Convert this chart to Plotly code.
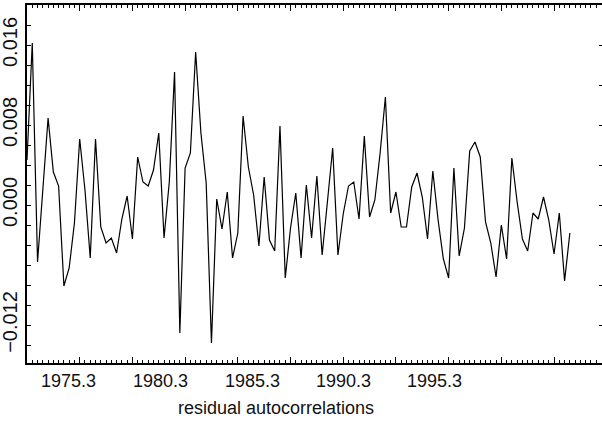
import plotly.graph_objects as go

# residual autocorrelation series (104 quarterly observations, index 0..103)
values = [
    0.0045, 0.0162, -0.0057, 0.0018, 0.0087, 0.0033, 0.0019, -0.0081, -0.0063, -0.0018,
    0.0066, 0.0015, -0.0053, 0.0066, -0.0022, -0.0038, -0.0033, -0.0048, -0.0014, 0.0009,
    -0.0034, 0.0048, 0.0023, 0.0019, 0.0035, 0.0072, -0.0033, 0.0023, 0.0133, -0.0128,
    0.0037, 0.0052, 0.0153, 0.0072, 0.0022, -0.0138, 0.0006, -0.0024, 0.0013, -0.0053,
    -0.0028, 0.0089, 0.0038, 0.0010, -0.0041, 0.0028, -0.0035, -0.0046, 0.0079, -0.0073,
    -0.0023, 0.0012, -0.0053, 0.0020, -0.0033, 0.0029, -0.0050, 0.0003, 0.0057, -0.0050,
    -0.0009, 0.0019, 0.0023, -0.0014, 0.0069, -0.0012, 0.0005, 0.0052, 0.0108, -0.0008,
    0.0013, -0.0022, -0.0022, 0.0018, 0.0032, 0.0008, -0.0034, 0.0034, -0.0015, -0.0054,
    -0.0073, 0.0037, -0.0051, -0.0023, 0.0054, 0.0063, 0.0048, -0.0017, -0.0038, -0.0072,
    -0.0020, -0.0054, 0.0047, 0.0003, -0.0034, -0.0046, -0.0008, -0.0014, 0.0008, -0.0015,
    -0.0049, -0.0008, -0.0076, -0.0028,
]
obs_index = list(range(len(values)))

# x tick labels and their positions on the observation index axis
x_tick_labels = ["1975.3", "1980.3", "1985.3", "1990.3", "1995.3"]
x_tick_pos = [7.9, 25.4, 42.7, 60.1, 77.3]

# y ticks
y_minor_ticks = [round(-0.014 + 0.002 * i, 3) for i in range(17)]
y_labelled = {0.016: "0.016", 0.008: "0.008", 0.0: "0.000", -0.012: "\u22120.012"}
y_right_ticks = [-0.012, -0.008, -0.004, 0.0, 0.004, 0.008, 0.012, 0.016]

title_text = "residual autocorrelations"

W, H = 602, 421
L, R, T, B = 27, 0, 5, 58
plot_h = H - T - B

fig = go.Figure()
fig.add_trace(go.Scatter(
    x=obs_index, y=values, mode="lines",
    line=dict(color="black", width=1.2),
    showlegend=False, hoverinfo="skip",
))
fig.add_trace(go.Scatter(
    x=[None], y=[None], yaxis="y2", mode="lines",
    showlegend=False, hoverinfo="skip",
))

yr = [-0.0158, 0.0200]

fig.update_layout(
    width=W, height=H,
    margin=dict(l=L, r=R, t=T, b=B, autoexpand=False),
    paper_bgcolor="white", plot_bgcolor="white",
    font=dict(family="Liberation Sans, Arial, sans-serif", color="black"),
    xaxis=dict(
        range=[0, 109.1], showgrid=False, zeroline=False,
        showline=True, linecolor="black", linewidth=2, mirror="ticks",
        ticks="inside", tickvals=list(range(0, 110, 10)), ticklen=6,
        tickcolor="black", tickwidth=1,
        minor=dict(dtick=1, tick0=0, ticks="inside", ticklen=3, tickcolor="black", tickwidth=1),
        showticklabels=False, automargin=False,
    ),
    yaxis=dict(
        range=yr, showgrid=False, zeroline=False,
        showline=True, linecolor="black", linewidth=2,
        ticks="inside", tickvals=y_minor_ticks,
        ticktext=[y_labelled.get(v, "") for v in y_minor_ticks],
        ticklen=4, tickcolor="black", tickwidth=1,
        tickangle=-90, tickfont=dict(size=20, color="#111"),
        automargin=False,
    ),
    yaxis2=dict(
        range=yr, overlaying="y", side="right", showgrid=False, zeroline=False,
        showline=False, ticks="inside", tickvals=y_right_ticks, ticklen=3,
        tickcolor="black", tickwidth=1, showticklabels=False,
    ),
)

for lab, pos in zip(x_tick_labels, x_tick_pos):
    fig.add_annotation(
        x=pos, y=-(381 - (H - B)) / plot_h, xref="x", yref="paper",
        text=lab, showarrow=False, xanchor="center", yanchor="middle",
        font=dict(size=18, color="#111"),
    )

fig.add_annotation(
    x=(276 - L) / (W - L - R), y=-(408 - (H - B)) / plot_h,
    xref="paper", yref="paper", text=title_text, showarrow=False,
    xanchor="center", yanchor="middle", font=dict(size=18, color="#111"),
)

fig.write_html(
    "out.html",
    config={"displayModeBar": False},
    post_script="document.body.style.margin='0px';document.body.style.overflow='hidden';",
)
